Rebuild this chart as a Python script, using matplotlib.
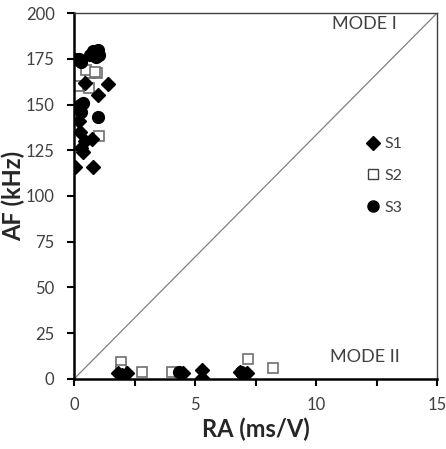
import matplotlib
matplotlib.use("Agg")
import matplotlib.pyplot as plt
from matplotlib.lines import Line2D

plt.rcParams['font.family'] = ['Lato', 'DejaVu Sans']

# S1 (diamonds)
s1_ra = [0.05, 0.8, 0.35, 0.25, 0.75, 0.45, 0.2, 0.45, 1.4, 1.0, 0.15, 0.3,
         1.8, 2.2, 2.0, 4.5, 5.3, 5.3, 6.85, 7.15, 7.0]
s1_af = [116, 116, 124, 135, 131, 130, 141, 162, 161, 155, 148, 126,
         3, 3, 2, 3, 5, 0.5, 4, 3, 2]
# S2 (open squares)
s2_ra = [0.95, 0.65, 0.6, 0.15, 1.05, 0.5, 0.85,
         1.95, 1.95, 2.8, 4.05, 7.2, 8.2]
s2_af = [167, 167, 159, 160, 133, 169, 168,
         9, 5, 4, 4, 11, 6]
# S3 (circles)
s3_ra = [0.05, 0.2, 0.3, 0.65, 0.8, 0.9, 1.0, 1.05, 0.35, 0.3, 1.0, 0.25,
         4.35, 6.9]
s3_af = [175, 175, 173, 177, 179, 176, 180, 177, 151, 146, 143, 150,
         4, 4]

fig = plt.figure(figsize=(4.46, 4.49), dpi=100)
ax = fig.add_axes([0.166, 0.156, 0.814, 0.815])

ax.plot([0, 15], [0, 200], color='#808080', lw=0.9, zorder=1)
ax.plot(s1_ra, s1_af, 'D', color='black', markersize=7.5, ls='none', zorder=3)
ax.plot(s2_ra, s2_af, 's', mfc='white', mec='#707070', mew=1.2, markersize=7.5, ls='none', zorder=2)
ax.plot(s3_ra, s3_af, 'o', color='black', markersize=8.5, ls='none', zorder=3)

ax.set_xlim(0, 15)
ax.set_ylim(0, 200)
ax.set_xticks([0, 5, 10, 15])
ax.set_xticks([2.5, 7.5, 12.5], minor=True)
ax.set_yticks(range(0, 201, 25))
ax.tick_params(axis='both', which='both', direction='out', length=5, width=1.5,
               labelsize=12, labelcolor='#404040', color='black')
ax.tick_params(axis='x', pad=8)
ax.tick_params(axis='y', pad=9)
for sp in ['left', 'bottom']:
    ax.spines[sp].set_linewidth(1.8)
for sp in ['top', 'right']:
    ax.spines[sp].set_linewidth(1.0)
    ax.spines[sp].set_color('#404040')

ax.set_xlabel('RA (ms/V)', fontsize=17, fontweight='bold', color='#262626', labelpad=3)
ax.set_ylabel('AF (kHz)', fontsize=17, fontweight='bold', color='#262626')
ax.yaxis.set_label_coords(-0.135, 0.5)

ax.text(0.80, 0.97, 'MODE I', transform=ax.transAxes, ha='center', va='center',
        fontsize=13, color='#404040')
ax.text(0.80, 0.06, 'MODE II', transform=ax.transAxes, ha='center', va='center',
        fontsize=13, color='#404040')

handles = [Line2D([], [], marker='D', color='black', ls='none', markersize=7),
           Line2D([], [], marker='s', mfc='white', mec='#404040', ls='none', markersize=7),
           Line2D([], [], marker='o', color='black', ls='none', markersize=8)]
ax.legend(handles, ['S1', 'S2', 'S3'], loc='center left', bbox_to_anchor=(0.75, 0.555),
          frameon=False, fontsize=11.5, labelspacing=1.1, handletextpad=0.0,
          handlelength=1.5, labelcolor='#404040')

fig.savefig('out.png', dpi=100)
